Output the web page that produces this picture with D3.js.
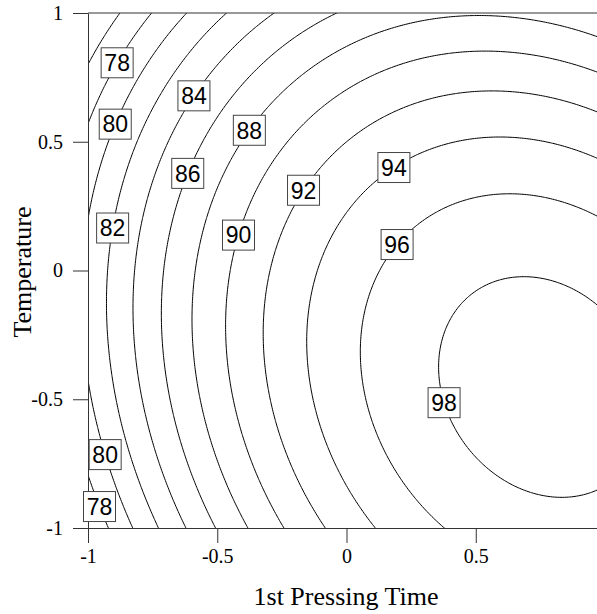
<!DOCTYPE html>
<html>
<head>
<meta charset="utf-8">
<script src="https://cdn.jsdelivr.net/npm/d3@7"></script>
<style>
  body { margin: 0; background: #fff; }
</style>
</head>
<body>
<div id="vis"></div>
<script>
// fitted quadratic model, coded units: 1, x, y, x^2, y^2, xy
var coefs = [95.025, 8.40, -3.33, -6.16, -5.45, -2.11];
var levels = [76, 78, 80, 82, 84, 86, 88, 90, 92, 94, 96, 98];
var xTicks = [-1, -0.5, 0, 0.5, 1];
var yTicks = [-1, -0.5, 0, 0.5, 1];

// contour labels: level and rough spot (coded units)
var labelLevels = [78, 80, 82, 84, 86, 88, 90, 92, 94, 96, 98, 80, 78];
var labelX = [-0.907, -0.915, -0.950, -0.609, -0.625, -0.427, -0.443, -0.195, 0.172, 0.172, 0.342, -0.950, -0.957];
var labelY = [0.817, 0.573, 0.177, 0.693, 0.383, 0.584, 0.150, 0.324, 0.417, 0.126, -0.522, -0.724, -0.915];

var W = 597, H = 614;
var plotL = 88, plotR = 605, plotT = 13, plotB = 528;

var svg = d3.select("#vis").append("svg").attr("width", W).attr("height", H);

var x = d3.scaleLinear().domain([-1, 1]).range([plotL, plotR]);
var y = d3.scaleLinear().domain([-1, 1]).range([plotB, plotT]);

function response(a, b) {
    return coefs[0] + coefs[1] * a + coefs[2] * b + coefs[3] * a * a + coefs[4] * b * b + coefs[5] * a * b;
}

// sample the surface a bit past the frame so the border edges get clipped away
var n = 241, lo = -1.1, hi = 1.1, step = (hi - lo) / (n - 1);
var grid = new Array(n * n);
for (var j = 0; j < n; j++) {
    for (var i = 0; i < n; i++) {
        grid[j * n + i] = response(lo + i * step, hi - j * step);
    }
}

function gx(c) { return x(lo + (c - 0.5) * step); }
function gy(c) { return y(hi - (c - 0.5) * step); }

var contours = d3.contours().size([n, n]).thresholds(levels)(grid);
var path = d3.geoPath(d3.geoTransform({
    point: function(cx, cy) { this.stream.point(gx(cx), gy(cy)); }
}));

svg.append("clipPath").attr("id", "plotClip")
    .append("rect").attr("x", plotL).attr("y", plotT)
    .attr("width", plotR - plotL).attr("height", plotB - plotT);

svg.append("g").attr("clip-path", "url(#plotClip)")
    .selectAll("path").data(contours).enter().append("path")
    .attr("d", path)
    .attr("fill", "none")
    .attr("stroke", "#000")
    .attr("stroke-width", 1);

// axes
var axisColor = "#333";
var gLeft = svg.append("g").attr("transform", "translate(" + plotL + ",0)")
    .call(d3.axisLeft(y).tickValues(yTicks).tickSize(15).tickSizeOuter(0).tickPadding(10)
        .tickFormat(function(d) { return String(d); }));
var gBottom = svg.append("g").attr("transform", "translate(0," + plotB + ")")
    .call(d3.axisBottom(x).tickValues(xTicks).tickSize(15).tickSizeOuter(0).tickPadding(6)
        .tickFormat(function(d) { return String(d); }));

[gLeft, gBottom].forEach(function(g) {
    g.selectAll("path, line").attr("stroke", axisColor);
    g.selectAll("text").attr("font-family", "'Liberation Serif', 'Times New Roman', serif")
        .attr("font-size", 20).attr("fill", "#000");
});

svg.append("line")
    .attr("x1", plotL).attr("x2", plotR).attr("y1", plotT).attr("y2", plotT)
    .attr("stroke", axisColor);

// labels snapped onto their contour
var labels = svg.append("g");
labelLevels.forEach(function(level, k) {
    var c = contours[levels.indexOf(level)];
    var px = x(labelX[k]), py = y(labelY[k]);
    var best = null, bestD = Infinity;
    c.coordinates.forEach(function(poly) {
        poly.forEach(function(ring) {
            ring.forEach(function(p) {
                var qx = gx(p[0]), qy = gy(p[1]);
                if (qx < plotL || qx > plotR || qy < plotT || qy > plotB) return;
                var d = (qx - px) * (qx - px) + (qy - py) * (qy - py);
                if (d < bestD) { bestD = d; best = [qx, qy]; }
            });
        });
    });
    if (!best) best = [px, py];
    var g = labels.append("g").attr("transform", "translate(" + best[0] + "," + best[1] + ")");
    g.append("rect").attr("x", -16).attr("y", -15).attr("width", 32).attr("height", 30)
        .attr("fill", "#fff").attr("stroke", "#444").attr("stroke-width", 1);
    g.append("text").attr("text-anchor", "middle").attr("dy", "0.36em")
        .attr("font-family", "'Liberation Sans', Arial, sans-serif").attr("font-size", 23)
        .attr("fill", "#000").text(level);
});

// axis titles
svg.append("text").attr("x", 346).attr("y", 605).attr("text-anchor", "middle")
    .attr("font-family", "'Liberation Serif', 'Times New Roman', serif").attr("font-size", 26)
    .text("1st Pressing Time");
svg.append("text").attr("transform", "translate(31,272) rotate(-90)").attr("text-anchor", "middle")
    .attr("font-family", "'Liberation Serif', 'Times New Roman', serif").attr("font-size", 26)
    .text("Temperature");
</script>
</body>
</html>
